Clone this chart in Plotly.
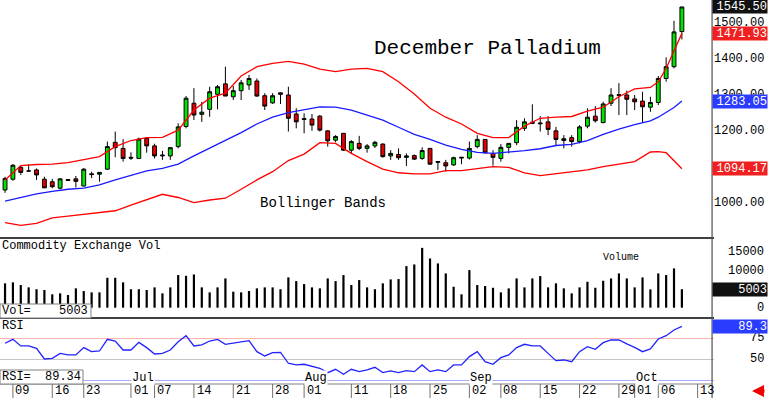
import plotly.graph_objects as go

# ---------------- data ----------------
opens = [1035, 1065, 1098, 1088, 1091, 1065, 1058, 1040, 1064, 1066, 1046, 1080, 1079, 1093, 1168, 1151, 1126, 1123, 1179, 1158,
         1130, 1130, 1156, 1212, 1277, 1246, 1260, 1302, 1331, 1295, 1312, 1328, 1339, 1298, 1278, 1306, 1300, 1247, 1234, 1233,
         1241, 1200, 1174, 1193, 1146, 1165, 1151, 1158, 1163, 1130, 1134, 1126, 1131, 1123, 1151, 1112, 1111, 1105, 1124, 1124,
         1156, 1176, 1137, 1123, 1154, 1167, 1207, 1224, 1222, 1225, 1200, 1173, 1181, 1170, 1213, 1241, 1223, 1277, 1301, 1300,
         1289, 1283, 1266, 1279, 1346, 1379, 1477]
highs = [1072, 1107, 1102, 1107, 1095, 1072, 1066, 1068, 1065, 1074, 1096, 1086, 1085, 1170, 1198, 1177, 1140, 1181, 1182, 1164,
         1144, 1154, 1221, 1297, 1319, 1281, 1323, 1328, 1379, 1325, 1342, 1356, 1346, 1305, 1305, 1307, 1323, 1263, 1249, 1247,
         1244, 1201, 1188, 1193, 1174, 1186, 1163, 1172, 1165, 1146, 1151, 1137, 1134, 1154, 1152, 1115, 1119, 1128, 1126, 1170,
         1188, 1177, 1146, 1163, 1166, 1230, 1235, 1274, 1241, 1241, 1211, 1188, 1188, 1216, 1263, 1269, 1281, 1319, 1333, 1312,
         1300, 1309, 1295, 1353, 1405, 1507, 1546]
lows = [1027, 1061, 1077, 1087, 1063, 1040, 1040, 1037, 1061, 1042, 1045, 1068, 1058, 1091, 1126, 1114, 1119, 1122, 1139, 1123,
        1119, 1119, 1151, 1207, 1230, 1225, 1239, 1260, 1297, 1286, 1286, 1314, 1295, 1258, 1275, 1275, 1198, 1207, 1193, 1200,
        1198, 1156, 1168, 1144, 1137, 1146, 1139, 1152, 1125, 1119, 1119, 1102, 1119, 1119, 1106, 1091, 1086, 1102, 1107, 1120,
        1151, 1136, 1103, 1114, 1137, 1160, 1200, 1220, 1198, 1188, 1160, 1151, 1156, 1165, 1207, 1223, 1221, 1269, 1244, 1244,
        1258, 1223, 1253, 1272, 1337, 1374, 1455]
closes = [1067, 1104, 1084, 1088, 1077, 1041, 1044, 1066, 1062, 1059, 1093, 1078, 1084, 1156, 1153, 1123, 1124, 1177, 1158, 1130,
          1132, 1153, 1211, 1291, 1244, 1252, 1309, 1323, 1297, 1312, 1334, 1346, 1297, 1269, 1298, 1302, 1235, 1225, 1232, 1216,
          1202, 1172, 1184, 1146, 1170, 1151, 1158, 1168, 1128, 1137, 1125, 1130, 1121, 1145, 1107, 1114, 1102, 1125, 1126, 1151,
          1176, 1139, 1126, 1154, 1165, 1210, 1225, 1221, 1220, 1204, 1176, 1178, 1170, 1211, 1238, 1228, 1275, 1300, 1299, 1288,
          1281, 1267, 1279, 1346, 1379, 1476, 1545.50]

volume = [6590, 6860, 6130, 5500, 5000, 4780, 3620, 3890, 3430, 5230, 4510, 4150, 4150, 8100, 8100, 6860, 5000, 5000, 4780, 5500,
          3890, 5500, 8830, 8640, 9000, 5500, 4150, 5500, 7930, 4330, 4150, 4510, 5230, 5500, 5500, 5000, 8200, 7200, 6400, 5500,
          5230, 7930, 7200, 8830, 6130, 7480, 5500, 5000, 6590, 7660, 7750, 11260, 11710, 16200, 13330, 11980, 9280, 5670, 3620, 10180,
          6130, 5860, 5400, 4150, 5230, 7930, 5500, 7930, 8560, 5500, 6590, 5230, 3890, 5500, 7020, 5400, 7290, 7930, 9280, 7930,
          5500, 8200, 4960, 9280, 8830, 10640, 5003]

rsi = [69.3, 74.0, 66.1, 66.1, 63.3, 50.6, 51.4, 57.3, 55.4, 55.4, 64.1, 59.3, 60.1, 74.0, 72.0, 61.3, 61.3, 70.4, 64.1, 56.5,
       57.3, 61.3, 71.2, 78.3, 66.1, 67.3, 72.0, 74.0, 68.1, 69.3, 71.2, 72.4, 59.3, 54.2, 58.1, 58.5, 45.5, 43.5, 44.3, 42.3,
       39.5, 34.3, 38.3, 32.4, 38.3, 35.5, 37.5, 40.7, 34.3, 36.3, 34.3, 36.7, 35.5, 43.5, 35.5, 37.5, 35.5, 43.5, 43.5, 53.4,
       59.3, 47.4, 44.3, 52.2, 55.4, 64.1, 68.1, 66.1, 66.1, 57.3, 48.6, 49.4, 47.4, 59.3, 65.2, 62.1, 70.0, 73.2, 73.2, 68.5,
       64.5, 59.3, 62.5, 74.4, 78.3, 85.1, 89.34]

band_idx = [0, 2, 4, 6, 8, 10, 12, 14, 16, 18, 20, 22, 24, 26, 28, 30, 32, 34, 36, 38, 40, 42, 44, 46, 48, 50, 52, 54, 56, 58,
            60, 62, 64, 66, 68, 70, 72, 74, 76, 78, 80, 82, 83, 84, 85, 86]
band_upper = [1063, 1103, 1106, 1107, 1111, 1119, 1128, 1156, 1173, 1181, 1182, 1202, 1258, 1291, 1305, 1353, 1379, 1388, 1394, 1386,
              1372, 1365, 1372, 1374, 1365, 1337, 1303, 1263, 1238, 1219, 1193, 1181, 1181, 1213, 1235, 1238, 1240, 1255, 1266, 1295,
              1317, 1321, 1337, 1374, 1425, 1471.93]
band_mid = [1004, 1014, 1024, 1031, 1037, 1040, 1049, 1063, 1075, 1088, 1095, 1107, 1130, 1151, 1173, 1195, 1219, 1238, 1251, 1260,
            1267, 1266, 1258, 1244, 1230, 1210, 1190, 1176, 1160, 1148, 1140, 1137, 1140, 1145, 1150, 1159, 1162, 1173, 1190, 1205,
            1217, 1228, 1238, 1251, 1265, 1283.05]
band_lower = [944, 936, 942, 957, 962, 967, 972, 977, 993, 1009, 1023, 1014, 1000, 1007, 1012, 1037, 1063, 1086, 1117, 1135,
              1167, 1165, 1137, 1114, 1093, 1083, 1080, 1080, 1089, 1089, 1095, 1100, 1098, 1083, 1075, 1080, 1085, 1091, 1100, 1107,
              1114, 1141, 1142, 1139, 1117, 1094.17]

date_tick_idx = [1, 6, 10, 16, 19, 24, 29, 34, 38, 44, 49, 54, 59, 63, 68, 73, 78, 80, 83, 88]
date_tick_labels = ["09", "16", "23", "01", "07", "14", "21", "28", "01", "11", "18", "25", "02", "08", "15", "22", "29", "01", "06", "13"]
month_idx = [16, 38, 59, 80]
month_labels = ["Jul", "Aug", "Sep", "Oct"]

price_ticks = [1000, 1200, 1300, 1400, 1500]
vol_ticks = [0, 10000, 15000]
rsi_ticks = [50, 75]

# ---------------- figure ----------------
MONO = "Liberation Mono"
idx = list(range(len(closes)))
fig = go.Figure()

fig.add_trace(go.Scatter(x=band_idx, y=band_upper, mode="lines", line=dict(color="#ff0000", width=1.3),
                         yaxis="y", hoverinfo="skip"))
fig.add_trace(go.Scatter(x=band_idx, y=band_lower, mode="lines", line=dict(color="#ff0000", width=1.3),
                         yaxis="y", hoverinfo="skip"))
fig.add_trace(go.Scatter(x=band_idx, y=band_mid, mode="lines", line=dict(color="#1a1aff", width=1.3),
                         yaxis="y", hoverinfo="skip"))
fig.add_trace(go.Candlestick(x=idx, open=opens, high=highs, low=lows, close=closes,
                             increasing=dict(line=dict(color="black", width=1), fillcolor="#00e400"),
                             decreasing=dict(line=dict(color="black", width=1), fillcolor="#e00000"),
                             whiskerwidth=0, yaxis="y", hoverinfo="skip"))
fig.add_trace(go.Bar(x=idx, y=volume, width=0.28, marker=dict(color="black", line=dict(width=0)),
                     yaxis="y2", hoverinfo="skip"))
fig.add_trace(go.Scatter(x=idx, y=rsi, mode="lines", line=dict(color="#2222ff", width=1.3),
                         yaxis="y3", hoverinfo="skip"))

R = 711.0  # plot width in px
H = 384.0  # plot height in px
D_MAIN = (H - 238) / H
D_VOL = (H - 318) / H

noax = dict(showticklabels=False, showgrid=False, zeroline=False, showline=False, ticks="", automargin=False)
fig.update_layout(
    width=768, height=398,
    margin=dict(l=0, r=57, t=0, b=14, pad=0, autoexpand=False),
    paper_bgcolor="white", plot_bgcolor="white",
    showlegend=False,
    xaxis=dict(domain=[0, 1], range=[-0.64, 89.7], anchor="y3", rangeslider=dict(visible=False),
               showgrid=False, zeroline=False, showline=False, ticks="", automargin=False,
               showticklabels=False),
    yaxis=dict(domain=[D_MAIN, 1], range=[901, 1565], anchor="x", **noax),
    yaxis2=dict(domain=[D_VOL, D_MAIN], range=[-2790, 18870], anchor="x", **noax),
    yaxis3=dict(domain=[0, D_VOL], range=[20.8, 99.4], anchor="x", **noax),
)

shapes = []
# RSI reference lines
for lvl, col in [(75, "#ffb4b4"), (50, "#c4c4c4"), (25, "#a8a8ff")]:
    shapes.append(dict(type="line", xref="paper", yref="y3", x0=0, x1=1.004, y0=lvl, y1=lvl,
                       line=dict(color=col, width=1), layer="below"))
# panel separators
for yp in [D_MAIN, D_VOL]:
    shapes.append(dict(type="line", xref="paper", yref="paper", x0=0, x1=714 / R, y0=yp, y1=yp,
                       line=dict(color="black", width=1.5)))
# right axis line and bottom line
shapes.append(dict(type="line", xref="paper", yref="paper", x0=1.0015, x1=1.0015, y0=-14 / H, y1=1,
                   line=dict(color="#505050", width=1.2)))
shapes.append(dict(type="line", xref="paper", yref="paper", x0=0, x1=1.0015, y0=0, y1=0,
                   line=dict(color="#808080", width=1)))
# date separators
for t in date_tick_idx:
    shapes.append(dict(type="line", xref="x", yref="paper", x0=t, x1=t, y0=0, y1=-14 / H,
                       line=dict(color="#707070", width=1)))
# value boxes
shapes.append(dict(type="rect", xref="paper", yref="paper", x0=0, x1=91 / R, y0=D_VOL, y1=(H - 304) / H,
                   line=dict(color="#808080", width=1), fillcolor="white"))
shapes.append(dict(type="rect", xref="paper", yref="paper", x0=0, x1=83 / R, y0=0, y1=(H - 370) / H,
                   line=dict(color="#808080", width=1), fillcolor="white"))
fig.update_layout(shapes=shapes)

ann = []


def txt(text, x, y, size, xanchor="left", yref="paper", xref="paper", color="black", **kw):
    ann.append(dict(text=text, x=x, y=y, xref=xref, yref=yref, xanchor=xanchor, yanchor="middle",
                    showarrow=False, font=dict(family=MONO, size=size, color=color), **kw))


txt("December Palladium", 372 / R, (H - 49) / H, 21)
txt("Bollinger Bands", 258 / R, (H - 203) / H, 14)
txt("Commodity Exchange Vol", 0, (H - 246) / H, 12)
txt("Volume", 601 / R, (H - 257) / H, 10)
txt("RSI", 0, (H - 326) / H, 12)
txt("Vol=", 0, (H - 311) / H, 12)
txt(f"{volume[-1]}", 90 / R, (H - 311) / H, 12, xanchor="right")
txt("RSI=", 0, (H - 377) / H, 12)
txt(f"{rsi[-1]:.2f}", 83 / R, (H - 377) / H, 12, xanchor="right")
for m, lab in zip(month_idx, month_labels):
    txt(lab, m, 28, 12, xref="x", yref="y3", bgcolor="white", borderpad=0)
# date labels, left-aligned just after each separator
for t, lab in zip(date_tick_idx, date_tick_labels):
    ann.append(dict(text=lab, x=t + 0.2, y=-7 / H, xref="x", yref="paper", xanchor="left", yanchor="middle",
                    showarrow=False, borderpad=0, font=dict(family=MONO, size=12, color="black")))

XR = 766 / R
for v in price_ticks:
    txt(f"{v:.2f}", XR, v, 12, xanchor="right", yref="y")
for v in vol_ticks:
    txt(f"{v}", XR, v, 12, xanchor="right", yref="y2")
for v in rsi_ticks:
    txt(f"{v}", XR, v, 12, xanchor="right", yref="y3")


def badge(text, y, yref, bg):
    ann.append(dict(text=text, x=768 / R, y=y, xref="paper", yref=yref, xanchor="right", yanchor="middle",
                    showarrow=False, width=54, height=13, align="right", bgcolor=bg, borderpad=0,
                    font=dict(family=MONO, size=12, color="white")))


badge(f"{closes[-1]:.2f}", closes[-1], "y", "#111111")
badge(f"{band_upper[-1]:.2f}", band_upper[-1], "y", "#f02020")
badge(f"{band_mid[-1]:.2f}", band_mid[-1], "y", "#2a3cff")
badge(f"{band_lower[-1]:.2f}", band_lower[-1], "y", "#f02020")
badge(f"{volume[-1]}", volume[-1], "y2", "#111111")
badge(f"{rsi[-1]:.1f}", rsi[-1], "y3", "#2a3cff")

# small red arrow bottom right
ann.append(dict(text="", x=752 / R, y=-7 / H, xref="paper", yref="paper", ax=14, ay=0, showarrow=True,
                arrowhead=2, arrowsize=0.8, arrowwidth=3, arrowcolor="#ee0000"))
fig.update_layout(annotations=ann)

fig.write_html("out.html", config={"displayModeBar": False},
               post_script="document.body.style.margin='0';")
